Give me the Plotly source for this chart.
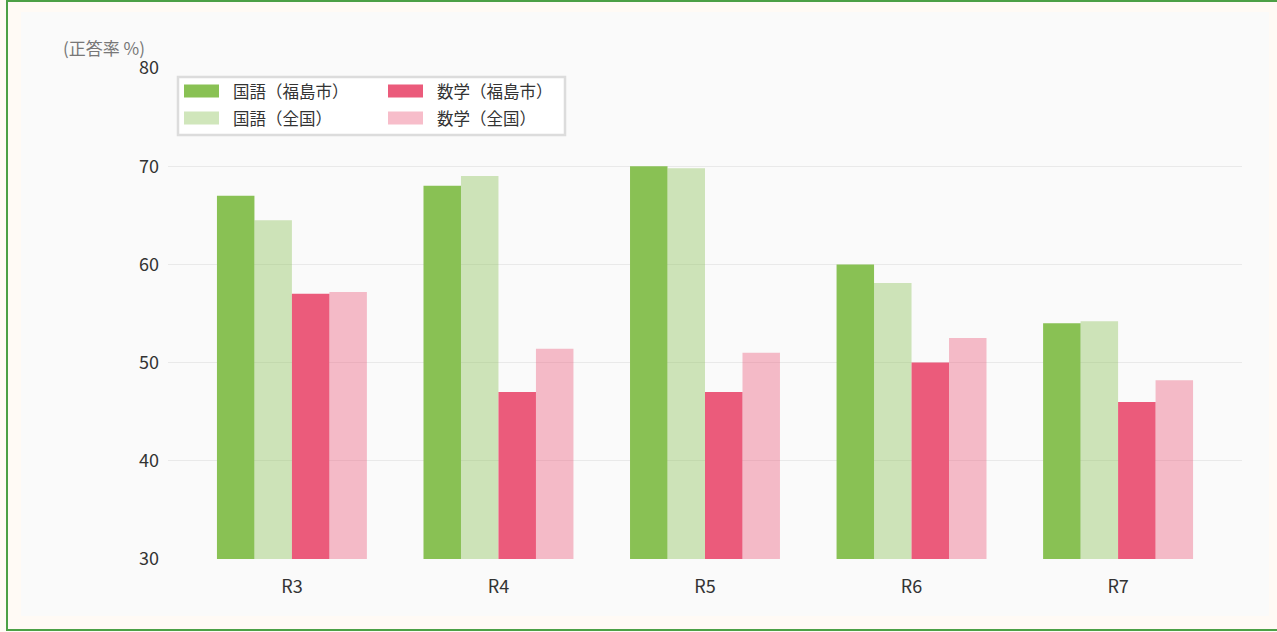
import plotly.graph_objects as go

# ---- data ----
categories = ["R3", "R4", "R5", "R6", "R7"]
series_names = ["国語（福島市）", "国語（全国）", "数学（福島市）", "数学（全国）"]
kokugo_city = [67.0, 68.0, 70.0, 60.0, 54.0]
kokugo_nation = [64.5, 69.0, 69.8, 58.1, 54.2]
math_city = [57.0, 47.0, 47.0, 50.0, 46.0]
math_nation = [57.2, 51.4, 51.0, 52.5, 48.2]
y_ticks = [30, 40, 50, 60, 70, 80]
y_title = "(正答率 %)"

# ---- styles ----
colors = ["#89c154", "rgba(137,193,84,0.4)", "#eb5b7b", "rgba(235,91,123,0.4)"]
FONT = "Noto Sans CJK JP"
W, H = 1277, 632
L, R, T, B = 168, 35, 68, 73
PW, PH = W - L - R, H - T - B


def px(x):
    return (x - L) / PW


def py(y):
    return (H - B - y) / PH


fig = go.Figure()
for name, vals, col in zip(series_names,
                           [kokugo_city, kokugo_nation, math_city, math_nation],
                           colors):
    fig.add_trace(go.Bar(x=categories, y=vals, name=name,
                         marker=dict(color=col, line=dict(width=0)),
                         showlegend=False))

shapes = []
annotations = []
# outer frame
shapes.append(dict(type="rect", xref="paper", yref="paper", layer="below",
                   x0=px(7), x1=px(1280), y0=py(1), y1=py(630),
                   line=dict(color="#4ca046", width=2), fillcolor="#fffaf5"))
shapes.append(dict(type="rect", xref="paper", yref="paper", layer="below",
                   x0=px(21), x1=px(1269), y0=py(12), y1=py(616),
                   line=dict(width=0), fillcolor="#fafafa"))
# legend box
shapes.append(dict(type="rect", xref="paper", yref="paper", layer="above",
                   x0=px(178), x1=px(565), y0=py(77), y1=py(135),
                   line=dict(color="#dcdcdc", width=2.5), fillcolor="#ffffff"))
legend_pos = [(184, 91), (184, 118), (388, 91), (388, 118)]
for (lx, ly), name, col in zip(legend_pos, series_names, colors):
    shapes.append(dict(type="rect", xref="paper", yref="paper", layer="above",
                       x0=px(lx), x1=px(lx + 35), y0=py(ly - 6.5), y1=py(ly + 6.5),
                       line=dict(width=0), fillcolor=col))
    annotations.append(dict(xref="paper", yref="paper", x=px(lx + 47), y=py(ly),
                            xanchor="left", yanchor="middle", showarrow=False,
                            text=name, font=dict(family=FONT, size=16.5, color="#333333")))
# y axis title
annotations.append(dict(xref="paper", yref="paper", x=px(61), y=py(47),
                        xanchor="left", yanchor="middle", showarrow=False,
                        text=y_title, font=dict(family=FONT, size=17, color="#777777")))

fig.update_layout(
    width=W, height=H,
    margin=dict(l=L, r=R, t=T, b=B),
    paper_bgcolor="#fffaf5",
    plot_bgcolor="#fafafa",
    barmode="group", bargap=0.274, bargroupgap=0,
    font=dict(family=FONT, color="#333333"),
    shapes=shapes, annotations=annotations,
    xaxis=dict(type="category", range=[-0.6, 4.6], showgrid=False, showline=False,
               ticks="", tickfont=dict(size=18, color="#333333"),
               ticklabelstandoff=15),
    yaxis=dict(range=[30, 80], tickvals=y_ticks, showgrid=True, gridcolor="#e9e9e9",
               gridwidth=1, zeroline=False, showline=False, ticks="",
               tickfont=dict(size=18, color="#333333"), ticklabelstandoff=8),
)

fig.write_html("out.html", config={"displayModeBar": False},
               post_script="document.body.style.margin='0';document.body.style.overflow='hidden';")
